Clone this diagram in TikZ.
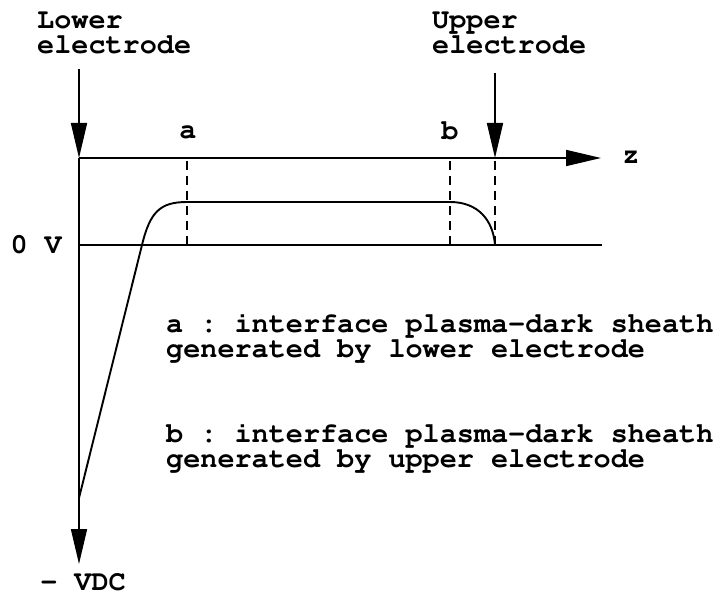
\documentclass[tikz,border=0pt]{standalone}
\usepackage[T1]{fontenc}
\usetikzlibrary{arrows.meta}

\tikzset{
  axisline/.style={line width=1.7pt},
  elecarrow/.style={line width=1.7pt,-{Triangle[length=35pt,width=16pt]}},
  guide/.style={line width=1.5pt,dash pattern=on 9pt off 6pt},
  txt/.style={inner sep=0pt,align=left}
}

\begin{document}
\frenchspacing
\begin{tikzpicture}[x=1pt,y=-1pt,
    font=\fontfamily{pcr}\fontseries{b}\fontsize{28.5}{25}\selectfont]
  \useasboundingbox (0,0) rectangle (726,596);

  % axes
  \coordinate (O) at (79,158);
  \coordinate (zend) at (601,158);
  \coordinate (vdc) at (79,564);
  \coordinate (zero0) at (79,245);
  \coordinate (zero1) at (602,245);
  \draw[elecarrow] (O) -- (zend);
  \draw[elecarrow] (O) -- (vdc);
  \draw[axisline] (zero0) -- (zero1);

  % electrodes
  \node[txt,anchor=north west] (lowlbl) at (37,12) {Lower\\electrode};
  \node[txt,anchor=north west] (uplbl) at (432,12) {Upper\\electrode};
  \coordinate (lowtop) at (79,69);
  \coordinate (upper) at (495,158);
  \coordinate (uptop) at (495,73);
  \draw[elecarrow] (lowtop) -- (O);
  \draw[elecarrow] (uptop) -- (upper);

  % interfaces a and b
  \node[txt] (alab) at (188,132) {a};
  \node[txt] (blab) at (450,131) {b};
  \node[txt] (zlab) at (631,157) {z};
  \foreach \x/\n in {187/a,450/b,495/u} {
    \draw[guide] (\x,161) -- (\x,247);
  }

  % potential profile
  \draw[line width=1.9pt] (79,498) -- (142,245)
    .. controls (150,212) and (160,202) .. (187,202) -- (450,202)
    .. controls (478,202) and (493,220) .. (495,245);

  \node[txt,anchor=east] (zerov) at (62,245) {0 V};
  \node[txt] (vdclab) at (83,582) {- VDC};

  % legend
  \node[txt,anchor=north west] (adesc) at (166,313)
    {a : interface plasma-dark sheath\\generated by lower electrode};
  \node[txt,anchor=north west] (bdesc) at (166,423)
    {b : interface plasma-dark sheath\\generated by upper electrode};
\end{tikzpicture}
\end{document}
